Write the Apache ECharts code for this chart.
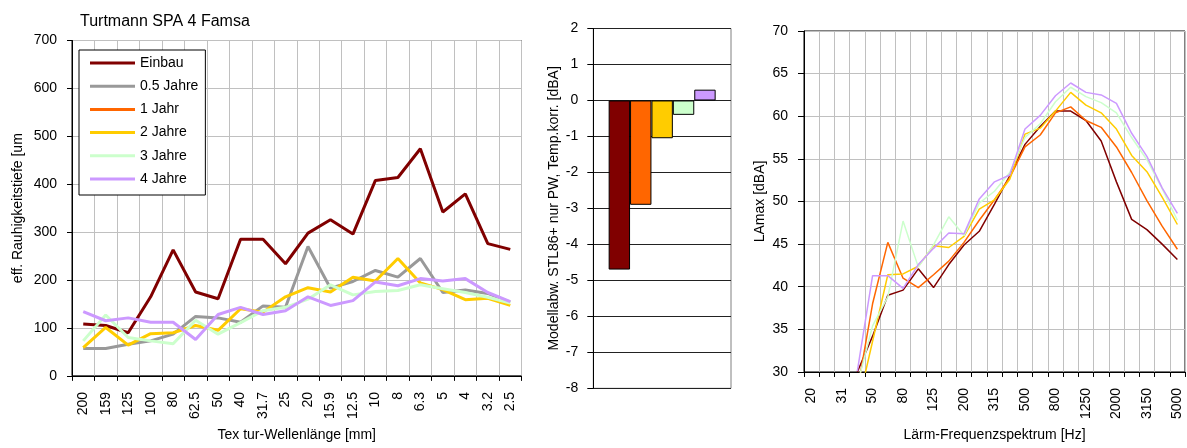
<!DOCTYPE html>
<html><head><meta charset="utf-8">
<script src="https://cdn.jsdelivr.net/npm/echarts@6/dist/echarts.min.js"></script>
<style>html,body{margin:0;padding:0;background:#fff}#c{width:1187px;height:448px}</style>
</head><body><div id="c"></div>
<script>
// ---- data ----
const wavelengths = ['200','159','125','100','80','62.5','50','40','31.7','25','20','15.9','12.5','10','8','6.3','5','4','3.2','2.5'];
const einbau  = [108,105,90,165,263,175,161,285,285,234,298,326,296,408,414,474,342,380,276,264];
const jahre05 = [57,57,66,73,87,124,121,112,146,143,270,183,197,220,206,245,174,179,172,154];
const jahr1   = [];
const jahre2  = [59,101,64,88,90,105,95,140,133,165,184,175,206,198,245,194,180,159,162,147];
const jahre3  = [73,127,80,73,67,116,87,111,136,143,160,190,169,176,178,190,182,174,164,152];
const jahre4  = [134,115,121,112,112,76,128,143,128,136,165,147,157,196,188,203,198,203,174,155];

const barNames  = ['Einbau','1 Jahr','2 Jahre','3 Jahre','4 Jahre'];
const barValues = [-4.7,-2.9,-1.05,-0.4,0.3];

const freqs = ['20','25','31','40','50','63','80','100','125','160','200','250','315','400','500','630','800','1000','1250','1600','2000','2500','3150','4000','5000'];
const einbauR = [null,null,null,30.0,34.2,39.0,39.6,42.1,39.9,42.6,44.9,46.5,49.7,53.0,56.7,58.8,60.6,60.6,59.5,57.1,52.3,47.9,46.7,45.0,43.2];
const jahr1R  = [null,null,null,27.8,38.0,45.2,41.0,39.9,41.4,43.0,45.2,47.8,50.2,52.8,56.4,57.8,60.4,61.1,59.5,58.7,56.4,53.4,50.1,47.1,44.4];
const jahre2R = [null,null,null,25.8,33.6,41.4,41.5,42.4,44.8,44.6,45.9,49.1,50.2,52.6,57.9,58.6,60.6,62.8,61.3,60.4,58.5,55.4,53.5,50.5,47.3];
const jahre3R = [null,null,null,28.5,35.4,38.8,47.7,42.3,44.9,48.2,46.0,49.8,51.2,53.4,57.5,59.1,61.7,63.4,62.3,61.6,60.4,57.5,54.9,51.5,47.8];
const jahre4R = [null,null,null,30.1,41.3,41.3,39.8,42.6,44.5,46.3,46.2,50.3,52.3,53.1,58.5,60.1,62.4,63.9,62.8,62.5,61.5,58.0,55.3,51.6,48.6];

const colors = {'Einbau':'#800000','0.5 Jahre':'#999999','1 Jahr':'#ff6600','2 Jahre':'#ffcc00','3 Jahre':'#ccffcc','4 Jahre':'#cc99ff'};
const legendNames = ['Einbau','0.5 Jahre','1 Jahr','2 Jahre','3 Jahre','4 Jahre'];

// ---- chart ----
const FF = "'Liberation Sans', Arial, sans-serif";
const chart = echarts.init(document.getElementById('c'), null, {renderer:'canvas'});

const leftSeries = [[ 'Einbau', einbau ], ['0.5 Jahre', jahre05], ['1 Jahr', jahr1], ['2 Jahre', jahre2], ['3 Jahre', jahre3], ['4 Jahre', jahre4]]
  .map(([n, d]) => ({
    name: n, type: 'line', xAxisIndex: 0, yAxisIndex: 0, data: d,
    symbol: 'none', color: colors[n], lineStyle: {width: 3, color: colors[n]}
  }));
const midSeries = barNames.map((n, i) => ({
  name: n, type: 'bar', xAxisIndex: 1, yAxisIndex: 1, data: [barValues[i]],
  barWidth: 21.4, barGap: '0%', color: colors[n],
  itemStyle: {color: colors[n], borderColor: '#000', borderWidth: 1}
}));
const rightSeries = [['Einbau', einbauR], ['1 Jahr', jahr1R], ['2 Jahre', jahre2R], ['3 Jahre', jahre3R], ['4 Jahre', jahre4R]]
  .map(([n, d]) => ({
    name: n, type: 'line', xAxisIndex: 2, yAxisIndex: 2, data: d,
    symbol: 'none', color: colors[n], lineStyle: {width: 1.5, color: colors[n]}
  }));

const axLabel = {color: '#000', fontSize: 14, fontFamily: FF};
const nameTS = {color: '#000', fontSize: 14, fontFamily: FF, lineHeight: 16};

chart.setOption({
  animation: false,
  backgroundColor: '#fff',
  textStyle: {fontFamily: FF},
  title: {text: 'Turtmann SPA 4 Famsa', left: 75, top: 9, textStyle: {fontSize: 16, fontWeight: 'normal', color: '#000', fontFamily: FF}},
  legend: {
    data: legendNames, orient: 'vertical', left: 79, top: 50,
    padding: [5, 7, 8, 11], itemWidth: 45, itemHeight: 3, itemGap: 7.2,
    icon: 'rect', selectedMode: false,
    backgroundColor: '#fff', borderColor: '#000', borderWidth: 1,
    textStyle: {color: '#000', fontSize: 14, fontFamily: FF, lineHeight: 16}
  },
  grid: [
    {left: 72, top: 40.5, width: 449.5, height: 345.5, show: true, borderColor: '#000', borderWidth: 1, backgroundColor: 'transparent'},
    {left: 593.3, top: 28.5, width: 137.7, height: 359.8, show: true, borderColor: '#808080', borderWidth: 1, backgroundColor: 'transparent'},
    {left: 804, top: 31, width: 381, height: 359, show: true, borderColor: '#000', borderWidth: 1, backgroundColor: 'transparent'}
  ],
  xAxis: [
    {gridIndex: 0, type: 'category', data: wavelengths, boundaryGap: true,
     name: 'Tex tur-Wellenlänge [mm]', nameLocation: 'middle', nameGap: 45, nameTextStyle: nameTS,
     axisLine: {lineStyle: {color: '#000', width: 1}},
     axisTick: {show: true, interval: 0, length: 5, lineStyle: {color: '#000'}},
     axisLabel: Object.assign({interval: 0, rotate: 90, margin: 16}, axLabel),
     splitLine: {show: true, interval: 0, lineStyle: {color: '#c0c0c0', width: 1}}},
    {gridIndex: 1, type: 'category', data: ['Modell'], show: true,
     axisLine: {show: false}, axisTick: {show: false}, axisLabel: {show: false}, splitLine: {show: false}},
    {gridIndex: 2, type: 'category', data: freqs, boundaryGap: true,
     name: 'Lärm-Frequenzspektrum [Hz]', nameLocation: 'middle', nameGap: 41, nameTextStyle: nameTS,
     axisLine: {lineStyle: {color: '#000', width: 1}},
     axisTick: {show: true, interval: 0, length: 5, lineStyle: {color: '#000'}},
     axisLabel: Object.assign({interval: 1, rotate: 90, margin: 16}, axLabel),
     splitLine: {show: true, interval: 0, lineStyle: {color: '#c0c0c0', width: 1}}}
  ],
  yAxis: [
    {gridIndex: 0, type: 'value', min: 0, max: 700, interval: 100,
     name: 'eff. Rauhigkeitstiefe [um', nameLocation: 'middle', nameGap: 45.5, nameTextStyle: nameTS,
     axisLine: {show: true, lineStyle: {color: '#000'}},
     axisTick: {show: true, length: 5, lineStyle: {color: '#000'}},
     axisLabel: Object.assign({margin: 15}, axLabel),
     splitLine: {show: true, lineStyle: {color: '#c0c0c0', width: 1}}},
    {gridIndex: 1, type: 'value', min: -8, max: 2, interval: 1,
     name: 'Modellabw. STL86+ nur PW, Temp.korr. [dBA]', nameLocation: 'middle', nameGap: 29, nameTextStyle: nameTS,
     axisLine: {show: true, lineStyle: {color: '#000'}},
     axisTick: {show: true, length: 6, lineStyle: {color: '#000'}},
     axisLabel: Object.assign({margin: 15}, axLabel),
     splitLine: {show: true, lineStyle: {color: '#222', width: 1}}},
    {gridIndex: 2, type: 'value', min: 30, max: 70, interval: 5,
     name: 'LAmax [dBA]', nameLocation: 'middle', nameGap: 31, nameTextStyle: nameTS,
     axisLine: {show: true, lineStyle: {color: '#000'}},
     axisTick: {show: true, length: 6, lineStyle: {color: '#000'}},
     axisLabel: Object.assign({margin: 16}, axLabel),
     splitLine: {show: true, lineStyle: {color: '#c0c0c0', width: 1}}}
  ],
  series: leftSeries.concat(midSeries, rightSeries)
});
</script></body></html>
